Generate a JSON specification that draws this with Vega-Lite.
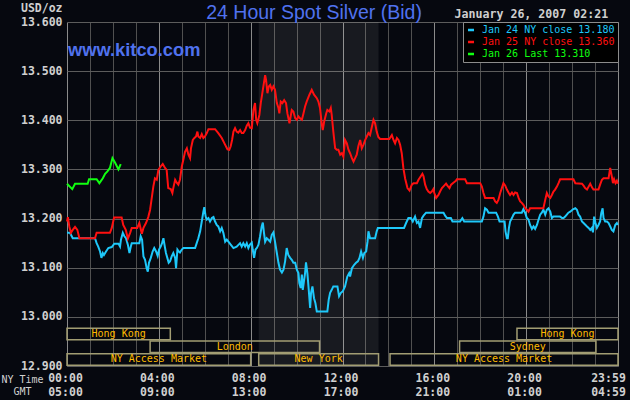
{
  "$schema": "https://vega.github.io/schema/vega-lite/v6.json",
  "description": "24 Hour Spot Silver (Bid), kitco, January 26 2007",
  "width": 551,
  "height": 344,
  "autosize": {"type": "none"},
  "padding": {"left": 67, "top": 22, "right": 12, "bottom": 34},
  "background": "#06080f",
  "config": {
    "view": {"stroke": null},
    "axis": {
      "ticks": false,
      "domain": false,
      "grid": true,
      "gridWidth": 1,
      "labelFont": "DejaVu Sans Mono",
      "labelFontSize": 11.5,
      "labelFontWeight": "bold",
      "labelColor": "#d0d0d0",
      "titleFont": "DejaVu Sans Mono",
      "titleFontSize": 10,
      "titleFontWeight": "normal",
      "titleColor": "#d0d0d0"
    },
    "axisX": {
      "labelBaseline": "top",
      "labelPadding": 6,
      "labelLineHeight": 14,
      "labelOverlap": false,
      "labelFlush": false,
      "titleAlign": "center",
      "titleBaseline": "top",
      "titleX": -45,
      "titleY": 8,
      "titleLineHeight": 12
    },
    "axisY": {"labelPadding": 5, "gridColor": "#5c5c5c"}
  },
  "datasets": {
    "days": [
      {"day": "Jan 24", "label": "Jan 24 NY close 13.180"},
      {"day": "Jan 25", "label": "Jan 25 NY close 13.360"},
      {"day": "Jan 26", "label": "Jan 26 Last 13.310"}
    ],
    "sessions": [
      {"session": "Hong Kong", "row": 1, "start": 0, "end": 4.5},
      {"session": "Hong Kong", "row": 1, "start": 19.6, "end": 24},
      {"session": "London", "row": 2, "start": 3.62, "end": 11.0},
      {"session": "Sydney", "row": 2, "start": 17.1, "end": 23.04},
      {"session": "NY Access Market", "row": 3, "start": 0, "end": 8.0},
      {"session": "New York", "row": 3, "start": 8.35, "end": 13.57},
      {"session": "NY Access Market", "row": 3, "start": 14.07, "end": 24}
    ],
    "prices": [
      {"day":"Jan 24","hour":0,"price":13.171},{"day":"Jan 24","hour":0.13,"price":13.171},{"day":"Jan 24","hour":0.25,"price":13.16},
      {"day":"Jan 24","hour":1.22,"price":13.16},{"day":"Jan 24","hour":1.29,"price":13.15},{"day":"Jan 24","hour":1.36,"price":13.143},
      {"day":"Jan 24","hour":1.44,"price":13.133},{"day":"Jan 24","hour":1.5,"price":13.12},{"day":"Jan 24","hour":1.56,"price":13.13},
      {"day":"Jan 24","hour":1.61,"price":13.126},{"day":"Jan 24","hour":1.7,"price":13.133},{"day":"Jan 24","hour":1.8,"price":13.14},
      {"day":"Jan 24","hour":1.95,"price":13.142},{"day":"Jan 24","hour":2.06,"price":13.149},{"day":"Jan 24","hour":2.24,"price":13.149},
      {"day":"Jan 24","hour":2.31,"price":13.143},{"day":"Jan 24","hour":2.35,"price":13.157},{"day":"Jan 24","hour":2.43,"price":13.171},
      {"day":"Jan 24","hour":2.5,"price":13.164},{"day":"Jan 24","hour":2.57,"price":13.16},{"day":"Jan 24","hour":2.65,"price":13.147},
      {"day":"Jan 24","hour":2.72,"price":13.13},{"day":"Jan 24","hour":2.78,"price":13.143},{"day":"Jan 24","hour":2.82,"price":13.15},
      {"day":"Jan 24","hour":3.15,"price":13.15},{"day":"Jan 24","hour":3.21,"price":13.164},{"day":"Jan 24","hour":3.27,"price":13.157},
      {"day":"Jan 24","hour":3.33,"price":13.123},{"day":"Jan 24","hour":3.4,"price":13.116},{"day":"Jan 24","hour":3.47,"price":13.099},
      {"day":"Jan 24","hour":3.52,"price":13.092},{"day":"Jan 24","hour":3.57,"price":13.11},{"day":"Jan 24","hour":3.65,"price":13.12},
      {"day":"Jan 24","hour":3.73,"price":13.133},{"day":"Jan 24","hour":3.8,"price":13.14},{"day":"Jan 24","hour":3.88,"price":13.133},
      {"day":"Jan 24","hour":3.95,"price":13.124},{"day":"Jan 24","hour":4.01,"price":13.137},{"day":"Jan 24","hour":4.08,"price":13.143},
      {"day":"Jan 24","hour":4.14,"price":13.15},{"day":"Jan 24","hour":4.2,"price":13.16},{"day":"Jan 24","hour":4.26,"price":13.143},
      {"day":"Jan 24","hour":4.31,"price":13.13},{"day":"Jan 24","hour":4.37,"price":13.12},{"day":"Jan 24","hour":4.43,"price":13.11},
      {"day":"Jan 24","hour":4.49,"price":13.113},{"day":"Jan 24","hour":4.56,"price":13.123},{"day":"Jan 24","hour":4.63,"price":13.13},
      {"day":"Jan 24","hour":4.71,"price":13.12},{"day":"Jan 24","hour":4.75,"price":13.099},{"day":"Jan 24","hour":4.81,"price":13.137},
      {"day":"Jan 24","hour":4.87,"price":13.133},{"day":"Jan 24","hour":4.92,"price":13.131},{"day":"Jan 24","hour":5.0,"price":13.137},
      {"day":"Jan 24","hour":5.07,"price":13.14},{"day":"Jan 24","hour":5.58,"price":13.14},{"day":"Jan 24","hour":5.65,"price":13.15},
      {"day":"Jan 24","hour":5.72,"price":13.16},{"day":"Jan 24","hour":5.8,"price":13.174},{"day":"Jan 24","hour":5.87,"price":13.194},
      {"day":"Jan 24","hour":5.94,"price":13.214},{"day":"Jan 24","hour":5.98,"price":13.223},{"day":"Jan 24","hour":6.04,"price":13.204},
      {"day":"Jan 24","hour":6.09,"price":13.198},{"day":"Jan 24","hour":6.16,"price":13.201},{"day":"Jan 24","hour":6.23,"price":13.194},
      {"day":"Jan 24","hour":6.31,"price":13.201},{"day":"Jan 24","hour":6.38,"price":13.203},{"day":"Jan 24","hour":6.45,"price":13.194},
      {"day":"Jan 24","hour":6.52,"price":13.187},{"day":"Jan 24","hour":6.59,"price":13.184},{"day":"Jan 24","hour":6.67,"price":13.174},
      {"day":"Jan 24","hour":6.74,"price":13.181},{"day":"Jan 24","hour":6.81,"price":13.171},{"day":"Jan 24","hour":6.89,"price":13.153},
      {"day":"Jan 24","hour":6.96,"price":13.157},{"day":"Jan 24","hour":7.03,"price":13.153},{"day":"Jan 24","hour":7.13,"price":13.147},
      {"day":"Jan 24","hour":7.25,"price":13.14},{"day":"Jan 24","hour":7.39,"price":13.143},{"day":"Jan 24","hour":7.54,"price":13.15},
      {"day":"Jan 24","hour":7.61,"price":13.143},{"day":"Jan 24","hour":7.68,"price":13.15},{"day":"Jan 24","hour":7.76,"price":13.143},
      {"day":"Jan 24","hour":7.83,"price":13.15},{"day":"Jan 24","hour":7.9,"price":13.14},{"day":"Jan 24","hour":7.97,"price":13.147},
      {"day":"Jan 24","hour":8.05,"price":13.151},{"day":"Jan 24","hour":8.09,"price":13.137},{"day":"Jan 24","hour":8.15,"price":13.12},
      {"day":"Jan 24","hour":8.21,"price":13.137},{"day":"Jan 24","hour":8.27,"price":13.14},{"day":"Jan 24","hour":8.34,"price":13.147},
      {"day":"Jan 24","hour":8.41,"price":13.164},{"day":"Jan 24","hour":8.48,"price":13.184},{"day":"Jan 24","hour":8.53,"price":13.192},
      {"day":"Jan 24","hour":8.58,"price":13.171},{"day":"Jan 24","hour":8.63,"price":13.153},{"day":"Jan 24","hour":8.7,"price":13.16},
      {"day":"Jan 24","hour":8.77,"price":13.157},{"day":"Jan 24","hour":8.85,"price":13.153},{"day":"Jan 24","hour":8.92,"price":13.167},
      {"day":"Jan 24","hour":8.99,"price":13.172},{"day":"Jan 24","hour":9.06,"price":13.153},{"day":"Jan 24","hour":9.14,"price":13.13},
      {"day":"Jan 24","hour":9.21,"price":13.11},{"day":"Jan 24","hour":9.28,"price":13.096},{"day":"Jan 24","hour":9.36,"price":13.09},
      {"day":"Jan 24","hour":9.43,"price":13.096},{"day":"Jan 24","hour":9.5,"price":13.113},{"day":"Jan 24","hour":9.57,"price":13.14},
      {"day":"Jan 24","hour":9.64,"price":13.126},{"day":"Jan 24","hour":9.72,"price":13.12},{"day":"Jan 24","hour":9.79,"price":13.116},
      {"day":"Jan 24","hour":9.86,"price":13.11},{"day":"Jan 24","hour":9.94,"price":13.11},{"day":"Jan 24","hour":10.01,"price":13.096},
      {"day":"Jan 24","hour":10.08,"price":13.089},{"day":"Jan 24","hour":10.12,"price":13.069},{"day":"Jan 24","hour":10.18,"price":13.059},
      {"day":"Jan 24","hour":10.23,"price":13.086},{"day":"Jan 24","hour":10.27,"price":13.055},{"day":"Jan 24","hour":10.33,"price":13.076},
      {"day":"Jan 24","hour":10.37,"price":13.089},{"day":"Jan 24","hour":10.41,"price":13.111},{"day":"Jan 24","hour":10.47,"price":13.089},
      {"day":"Jan 24","hour":10.53,"price":13.055},{"day":"Jan 24","hour":10.59,"price":13.018},{"day":"Jan 24","hour":10.63,"price":13.049},
      {"day":"Jan 24","hour":10.69,"price":13.062},{"day":"Jan 24","hour":10.76,"price":13.038},{"day":"Jan 24","hour":10.82,"price":13.028},
      {"day":"Jan 24","hour":10.88,"price":13.011},{"day":"Jan 24","hour":11.34,"price":13.011},{"day":"Jan 24","hour":11.4,"price":13.035},
      {"day":"Jan 24","hour":11.46,"price":13.049},{"day":"Jan 24","hour":11.53,"price":13.055},{"day":"Jan 24","hour":11.6,"price":13.062},
      {"day":"Jan 24","hour":11.78,"price":13.062},{"day":"Jan 24","hour":11.85,"price":13.042},{"day":"Jan 24","hour":11.93,"price":13.049},
      {"day":"Jan 24","hour":12.01,"price":13.052},{"day":"Jan 24","hour":12.11,"price":13.062},{"day":"Jan 24","hour":12.21,"price":13.082},
      {"day":"Jan 24","hour":12.29,"price":13.089},{"day":"Jan 24","hour":12.33,"price":13.082},{"day":"Jan 24","hour":12.41,"price":13.099},
      {"day":"Jan 24","hour":12.51,"price":13.106},{"day":"Jan 24","hour":12.59,"price":13.11},{"day":"Jan 24","hour":12.67,"price":13.113},
      {"day":"Jan 24","hour":12.74,"price":13.12},{"day":"Jan 24","hour":12.81,"price":13.133},{"day":"Jan 24","hour":12.89,"price":13.12},
      {"day":"Jan 24","hour":12.95,"price":13.13},{"day":"Jan 24","hour":13.03,"price":13.133},{"day":"Jan 24","hour":13.09,"price":13.153},
      {"day":"Jan 24","hour":13.13,"price":13.174},{"day":"Jan 24","hour":13.2,"price":13.16},{"day":"Jan 24","hour":13.42,"price":13.16},
      {"day":"Jan 24","hour":13.49,"price":13.174},{"day":"Jan 24","hour":13.54,"price":13.181},{"day":"Jan 24","hour":14.68,"price":13.181},
      {"day":"Jan 24","hour":14.77,"price":13.191},{"day":"Jan 24","hour":14.87,"price":13.201},{"day":"Jan 24","hour":14.98,"price":13.201},
      {"day":"Jan 24","hour":15.06,"price":13.194},{"day":"Jan 24","hour":15.16,"price":13.204},{"day":"Jan 24","hour":15.24,"price":13.191},
      {"day":"Jan 24","hour":15.31,"price":13.194},{"day":"Jan 24","hour":15.38,"price":13.181},{"day":"Jan 24","hour":15.46,"price":13.201},
      {"day":"Jan 24","hour":15.53,"price":13.206},{"day":"Jan 24","hour":15.64,"price":13.212},{"day":"Jan 24","hour":16.4,"price":13.212},
      {"day":"Jan 24","hour":16.47,"price":13.206},{"day":"Jan 24","hour":16.55,"price":13.201},{"day":"Jan 24","hour":16.72,"price":13.201},
      {"day":"Jan 24","hour":16.79,"price":13.194},{"day":"Jan 24","hour":17.12,"price":13.194},{"day":"Jan 24","hour":17.22,"price":13.201},
      {"day":"Jan 24","hour":17.3,"price":13.194},{"day":"Jan 24","hour":18.07,"price":13.194},{"day":"Jan 24","hour":18.14,"price":13.204},
      {"day":"Jan 24","hour":18.21,"price":13.221},{"day":"Jan 24","hour":18.29,"price":13.218},{"day":"Jan 24","hour":18.36,"price":13.212},
      {"day":"Jan 24","hour":18.69,"price":13.212},{"day":"Jan 24","hour":18.77,"price":13.204},{"day":"Jan 24","hour":18.84,"price":13.194},
      {"day":"Jan 24","hour":19.06,"price":13.194},{"day":"Jan 24","hour":19.1,"price":13.174},{"day":"Jan 24","hour":19.16,"price":13.16},
      {"day":"Jan 24","hour":19.2,"price":13.16},{"day":"Jan 24","hour":19.25,"price":13.181},{"day":"Jan 24","hour":19.3,"price":13.194},
      {"day":"Jan 24","hour":19.38,"price":13.201},{"day":"Jan 24","hour":19.45,"price":13.208},{"day":"Jan 24","hour":19.52,"price":13.212},
      {"day":"Jan 24","hour":19.81,"price":13.212},{"day":"Jan 24","hour":19.88,"price":13.219},{"day":"Jan 24","hour":19.96,"price":13.211},
      {"day":"Jan 24","hour":20.03,"price":13.201},{"day":"Jan 24","hour":20.1,"price":13.198},{"day":"Jan 24","hour":20.17,"price":13.187},
      {"day":"Jan 24","hour":20.25,"price":13.179},{"day":"Jan 24","hour":20.32,"price":13.184},{"day":"Jan 24","hour":20.39,"price":13.179},
      {"day":"Jan 24","hour":20.47,"price":13.187},{"day":"Jan 24","hour":20.54,"price":13.198},{"day":"Jan 24","hour":20.61,"price":13.208},
      {"day":"Jan 24","hour":20.68,"price":13.212},{"day":"Jan 24","hour":20.75,"price":13.218},{"day":"Jan 24","hour":20.83,"price":13.208},
      {"day":"Jan 24","hour":20.9,"price":13.218},{"day":"Jan 24","hour":20.97,"price":13.221},{"day":"Jan 24","hour":21.05,"price":13.214},
      {"day":"Jan 24","hour":21.12,"price":13.201},{"day":"Jan 24","hour":21.19,"price":13.204},{"day":"Jan 24","hour":21.48,"price":13.204},
      {"day":"Jan 24","hour":21.56,"price":13.201},{"day":"Jan 24","hour":21.63,"price":13.201},{"day":"Jan 24","hour":21.7,"price":13.204},
      {"day":"Jan 24","hour":21.77,"price":13.208},{"day":"Jan 24","hour":21.84,"price":13.212},{"day":"Jan 24","hour":21.92,"price":13.214},
      {"day":"Jan 24","hour":22.04,"price":13.219},{"day":"Jan 24","hour":22.14,"price":13.221},{"day":"Jan 24","hour":22.21,"price":13.218},
      {"day":"Jan 24","hour":22.28,"price":13.208},{"day":"Jan 24","hour":22.35,"price":13.204},{"day":"Jan 24","hour":22.43,"price":13.194},
      {"day":"Jan 24","hour":22.5,"price":13.191},{"day":"Jan 24","hour":22.65,"price":13.184},{"day":"Jan 24","hour":22.72,"price":13.181},
      {"day":"Jan 24","hour":22.79,"price":13.177},{"day":"Jan 24","hour":22.86,"price":13.181},{"day":"Jan 24","hour":22.91,"price":13.172},
      {"day":"Jan 24","hour":22.96,"price":13.204},{"day":"Jan 24","hour":23.02,"price":13.191},{"day":"Jan 24","hour":23.08,"price":13.181},
      {"day":"Jan 24","hour":23.15,"price":13.187},{"day":"Jan 24","hour":23.22,"price":13.194},{"day":"Jan 24","hour":23.27,"price":13.211},
      {"day":"Jan 24","hour":23.33,"price":13.221},{"day":"Jan 24","hour":23.37,"price":13.201},{"day":"Jan 24","hour":23.44,"price":13.194},
      {"day":"Jan 24","hour":23.52,"price":13.194},{"day":"Jan 24","hour":23.59,"price":13.191},{"day":"Jan 24","hour":23.66,"price":13.184},
      {"day":"Jan 24","hour":23.73,"price":13.177},{"day":"Jan 24","hour":23.8,"price":13.174},{"day":"Jan 24","hour":23.88,"price":13.187},
      {"day":"Jan 24","hour":23.95,"price":13.191},{"day":"Jan 24","hour":23.99,"price":13.187},

      {"day":"Jan 25","hour":0,"price":13.194},{"day":"Jan 25","hour":0.04,"price":13.203},{"day":"Jan 25","hour":0.1,"price":13.184},
      {"day":"Jan 25","hour":0.17,"price":13.171},{"day":"Jan 25","hour":0.25,"price":13.177},{"day":"Jan 25","hour":0.35,"price":13.183},
      {"day":"Jan 25","hour":0.45,"price":13.177},{"day":"Jan 25","hour":0.54,"price":13.16},{"day":"Jan 25","hour":1.22,"price":13.16},
      {"day":"Jan 25","hour":1.29,"price":13.171},{"day":"Jan 25","hour":1.87,"price":13.171},{"day":"Jan 25","hour":1.95,"price":13.181},
      {"day":"Jan 25","hour":2.05,"price":13.202},{"day":"Jan 25","hour":2.38,"price":13.202},{"day":"Jan 25","hour":2.45,"price":13.187},
      {"day":"Jan 25","hour":2.56,"price":13.177},{"day":"Jan 25","hour":2.65,"price":13.159},{"day":"Jan 25","hour":2.75,"price":13.171},
      {"day":"Jan 25","hour":2.82,"price":13.181},{"day":"Jan 25","hour":3.06,"price":13.181},{"day":"Jan 25","hour":3.15,"price":13.191},
      {"day":"Jan 25","hour":3.26,"price":13.169},{"day":"Jan 25","hour":3.33,"price":13.181},{"day":"Jan 25","hour":3.44,"price":13.191},
      {"day":"Jan 25","hour":3.54,"price":13.203},{"day":"Jan 25","hour":3.62,"price":13.218},{"day":"Jan 25","hour":3.76,"price":13.265},
      {"day":"Jan 25","hour":3.83,"price":13.282},{"day":"Jan 25","hour":3.91,"price":13.279},{"day":"Jan 25","hour":3.98,"price":13.299},
      {"day":"Jan 25","hour":4.08,"price":13.306},{"day":"Jan 25","hour":4.17,"price":13.311},{"day":"Jan 25","hour":4.27,"price":13.303},
      {"day":"Jan 25","hour":4.34,"price":13.299},{"day":"Jan 25","hour":4.41,"price":13.262},{"day":"Jan 25","hour":4.52,"price":13.26},
      {"day":"Jan 25","hour":4.59,"price":13.252},{"day":"Jan 25","hour":4.63,"price":13.262},{"day":"Jan 25","hour":4.71,"price":13.279},
      {"day":"Jan 25","hour":4.78,"price":13.273},{"day":"Jan 25","hour":4.85,"price":13.269},{"day":"Jan 25","hour":4.92,"price":13.279},
      {"day":"Jan 25","hour":5.0,"price":13.306},{"day":"Jan 25","hour":5.07,"price":13.32},{"day":"Jan 25","hour":5.14,"price":13.336},
      {"day":"Jan 25","hour":5.22,"price":13.343},{"day":"Jan 25","hour":5.29,"price":13.33},{"day":"Jan 25","hour":5.36,"price":13.323},
      {"day":"Jan 25","hour":5.4,"price":13.343},{"day":"Jan 25","hour":5.48,"price":13.36},{"day":"Jan 25","hour":5.55,"price":13.364},
      {"day":"Jan 25","hour":5.62,"price":13.367},{"day":"Jan 25","hour":5.68,"price":13.377},{"day":"Jan 25","hour":5.72,"price":13.367},
      {"day":"Jan 25","hour":5.8,"price":13.364},{"day":"Jan 25","hour":5.87,"price":13.372},{"day":"Jan 25","hour":5.94,"price":13.364},
      {"day":"Jan 25","hour":6.01,"price":13.367},{"day":"Jan 25","hour":6.09,"price":13.374},{"day":"Jan 25","hour":6.16,"price":13.382},
      {"day":"Jan 25","hour":6.45,"price":13.382},{"day":"Jan 25","hour":6.59,"price":13.374},{"day":"Jan 25","hour":6.74,"price":13.364},
      {"day":"Jan 25","hour":6.89,"price":13.35},{"day":"Jan 25","hour":6.99,"price":13.341},{"day":"Jan 25","hour":7.07,"price":13.34},
      {"day":"Jan 25","hour":7.13,"price":13.347},{"day":"Jan 25","hour":7.19,"price":13.36},{"day":"Jan 25","hour":7.25,"price":13.377},
      {"day":"Jan 25","hour":7.32,"price":13.384},{"day":"Jan 25","hour":7.39,"price":13.377},{"day":"Jan 25","hour":7.46,"price":13.375},
      {"day":"Jan 25","hour":7.54,"price":13.38},{"day":"Jan 25","hour":7.61,"price":13.374},{"day":"Jan 25","hour":7.68,"price":13.374},
      {"day":"Jan 25","hour":7.76,"price":13.38},{"day":"Jan 25","hour":7.83,"price":13.389},{"day":"Jan 25","hour":7.9,"price":13.394},
      {"day":"Jan 25","hour":7.97,"price":13.385},{"day":"Jan 25","hour":8.05,"price":13.384},{"day":"Jan 25","hour":8.12,"price":13.421},
      {"day":"Jan 25","hour":8.19,"price":13.435},{"day":"Jan 25","hour":8.24,"price":13.401},{"day":"Jan 25","hour":8.29,"price":13.394},
      {"day":"Jan 25","hour":8.38,"price":13.411},{"day":"Jan 25","hour":8.44,"price":13.435},{"day":"Jan 25","hour":8.53,"price":13.462},
      {"day":"Jan 25","hour":8.63,"price":13.492},{"day":"Jan 25","hour":8.67,"price":13.482},{"day":"Jan 25","hour":8.73,"price":13.455},
      {"day":"Jan 25","hour":8.79,"price":13.469},{"day":"Jan 25","hour":8.85,"price":13.472},{"day":"Jan 25","hour":8.92,"price":13.462},
      {"day":"Jan 25","hour":8.99,"price":13.469},{"day":"Jan 25","hour":9.06,"price":13.462},{"day":"Jan 25","hour":9.14,"price":13.435},
      {"day":"Jan 25","hour":9.21,"price":13.425},{"day":"Jan 25","hour":9.25,"price":13.414},{"day":"Jan 25","hour":9.31,"price":13.438},
      {"day":"Jan 25","hour":9.38,"price":13.435},{"day":"Jan 25","hour":9.46,"price":13.441},{"day":"Jan 25","hour":9.54,"price":13.435},
      {"day":"Jan 25","hour":9.6,"price":13.414},{"day":"Jan 25","hour":9.69,"price":13.394},{"day":"Jan 25","hour":9.79,"price":13.421},
      {"day":"Jan 25","hour":9.86,"price":13.418},{"day":"Jan 25","hour":9.94,"price":13.404},{"day":"Jan 25","hour":10.01,"price":13.401},
      {"day":"Jan 25","hour":10.08,"price":13.408},{"day":"Jan 25","hour":10.15,"price":13.404},{"day":"Jan 25","hour":10.23,"price":13.401},
      {"day":"Jan 25","hour":10.3,"price":13.414},{"day":"Jan 25","hour":10.37,"price":13.428},{"day":"Jan 25","hour":10.44,"price":13.438},
      {"day":"Jan 25","hour":10.56,"price":13.452},{"day":"Jan 25","hour":10.66,"price":13.462},{"day":"Jan 25","hour":10.76,"price":13.452},
      {"day":"Jan 25","hour":10.88,"price":13.445},{"day":"Jan 25","hour":10.95,"price":13.438},{"day":"Jan 25","hour":11.02,"price":13.425},
      {"day":"Jan 25","hour":11.1,"price":13.391},{"day":"Jan 25","hour":11.14,"price":13.38},{"day":"Jan 25","hour":11.2,"price":13.397},
      {"day":"Jan 25","hour":11.29,"price":13.414},{"day":"Jan 25","hour":11.34,"price":13.421},{"day":"Jan 25","hour":11.43,"price":13.418},
      {"day":"Jan 25","hour":11.49,"price":13.425},{"day":"Jan 25","hour":11.53,"price":13.411},{"day":"Jan 25","hour":11.6,"price":13.377},
      {"day":"Jan 25","hour":11.68,"price":13.343},{"day":"Jan 25","hour":11.75,"price":13.34},{"day":"Jan 25","hour":11.82,"price":13.34},
      {"day":"Jan 25","hour":11.9,"price":13.33},{"day":"Jan 25","hour":11.97,"price":13.333},{"day":"Jan 25","hour":12.04,"price":13.326},
      {"day":"Jan 25","hour":12.11,"price":13.36},{"day":"Jan 25","hour":12.19,"price":13.353},{"day":"Jan 25","hour":12.26,"price":13.34},
      {"day":"Jan 25","hour":12.33,"price":13.333},{"day":"Jan 25","hour":12.41,"price":13.323},{"day":"Jan 25","hour":12.48,"price":13.316},
      {"day":"Jan 25","hour":12.55,"price":13.323},{"day":"Jan 25","hour":12.62,"price":13.33},{"day":"Jan 25","hour":12.69,"price":13.347},
      {"day":"Jan 25","hour":12.77,"price":13.36},{"day":"Jan 25","hour":12.84,"price":13.343},{"day":"Jan 25","hour":12.91,"price":13.35},
      {"day":"Jan 25","hour":12.99,"price":13.36},{"day":"Jan 25","hour":13.06,"price":13.367},{"day":"Jan 25","hour":13.13,"price":13.374},
      {"day":"Jan 25","hour":13.2,"price":13.37},{"day":"Jan 25","hour":13.28,"price":13.387},{"day":"Jan 25","hour":13.35,"price":13.401},
      {"day":"Jan 25","hour":13.42,"price":13.394},{"day":"Jan 25","hour":13.49,"price":13.377},{"day":"Jan 25","hour":13.56,"price":13.366},
      {"day":"Jan 25","hour":13.64,"price":13.362},{"day":"Jan 25","hour":14.04,"price":13.362},{"day":"Jan 25","hour":14.15,"price":13.37},
      {"day":"Jan 25","hour":14.22,"price":13.36},{"day":"Jan 25","hour":14.29,"price":13.353},{"day":"Jan 25","hour":14.37,"price":13.364},
      {"day":"Jan 25","hour":14.44,"price":13.36},{"day":"Jan 25","hour":14.51,"price":13.35},{"day":"Jan 25","hour":14.58,"price":13.333},
      {"day":"Jan 25","hour":14.65,"price":13.303},{"day":"Jan 25","hour":14.73,"price":13.281},{"day":"Jan 25","hour":14.83,"price":13.262},
      {"day":"Jan 25","hour":14.92,"price":13.257},{"day":"Jan 25","hour":15.02,"price":13.269},{"day":"Jan 25","hour":15.09,"price":13.272},
      {"day":"Jan 25","hour":15.24,"price":13.272},{"day":"Jan 25","hour":15.31,"price":13.279},{"day":"Jan 25","hour":15.41,"price":13.286},
      {"day":"Jan 25","hour":15.48,"price":13.291},{"day":"Jan 25","hour":15.53,"price":13.286},{"day":"Jan 25","hour":15.6,"price":13.269},
      {"day":"Jan 25","hour":15.67,"price":13.26},{"day":"Jan 25","hour":15.74,"price":13.255},{"day":"Jan 25","hour":15.82,"price":13.252},
      {"day":"Jan 25","hour":15.89,"price":13.255},{"day":"Jan 25","hour":15.96,"price":13.26},{"day":"Jan 25","hour":16.0,"price":13.252},
      {"day":"Jan 25","hour":16.08,"price":13.242},{"day":"Jan 25","hour":16.18,"price":13.248},{"day":"Jan 25","hour":16.25,"price":13.255},
      {"day":"Jan 25","hour":16.33,"price":13.262},{"day":"Jan 25","hour":16.43,"price":13.267},{"day":"Jan 25","hour":16.51,"price":13.271},
      {"day":"Jan 25","hour":16.57,"price":13.267},{"day":"Jan 25","hour":16.66,"price":13.262},{"day":"Jan 25","hour":16.73,"price":13.269},
      {"day":"Jan 25","hour":16.83,"price":13.273},{"day":"Jan 25","hour":16.94,"price":13.277},{"day":"Jan 25","hour":16.98,"price":13.28},
      {"day":"Jan 25","hour":17.34,"price":13.28},{"day":"Jan 25","hour":17.42,"price":13.272},{"day":"Jan 25","hour":18.0,"price":13.272},
      {"day":"Jan 25","hour":18.07,"price":13.265},{"day":"Jan 25","hour":18.14,"price":13.252},{"day":"Jan 25","hour":18.21,"price":13.242},
      {"day":"Jan 25","hour":18.58,"price":13.242},{"day":"Jan 25","hour":18.65,"price":13.235},{"day":"Jan 25","hour":18.72,"price":13.232},
      {"day":"Jan 25","hour":18.79,"price":13.238},{"day":"Jan 25","hour":18.87,"price":13.252},{"day":"Jan 25","hour":18.94,"price":13.262},
      {"day":"Jan 25","hour":19.01,"price":13.272},{"day":"Jan 25","hour":19.09,"price":13.267},{"day":"Jan 25","hour":19.16,"price":13.259},
      {"day":"Jan 25","hour":19.23,"price":13.253},{"day":"Jan 25","hour":19.3,"price":13.248},{"day":"Jan 25","hour":19.38,"price":13.253},
      {"day":"Jan 25","hour":19.45,"price":13.248},{"day":"Jan 25","hour":19.52,"price":13.253},{"day":"Jan 25","hour":19.6,"price":13.252},
      {"day":"Jan 25","hour":19.67,"price":13.242},{"day":"Jan 25","hour":19.74,"price":13.235},{"day":"Jan 25","hour":19.81,"price":13.232},
      {"day":"Jan 25","hour":19.88,"price":13.228},{"day":"Jan 25","hour":19.96,"price":13.221},{"day":"Jan 25","hour":20.03,"price":13.218},
      {"day":"Jan 25","hour":20.1,"price":13.214},{"day":"Jan 25","hour":20.17,"price":13.221},{"day":"Jan 25","hour":20.75,"price":13.221},
      {"day":"Jan 25","hour":20.83,"price":13.238},{"day":"Jan 25","hour":20.9,"price":13.252},{"day":"Jan 25","hour":20.97,"price":13.245},
      {"day":"Jan 25","hour":21.05,"price":13.242},{"day":"Jan 25","hour":21.12,"price":13.248},{"day":"Jan 25","hour":21.19,"price":13.255},
      {"day":"Jan 25","hour":21.26,"price":13.259},{"day":"Jan 25","hour":21.34,"price":13.265},{"day":"Jan 25","hour":21.41,"price":13.272},
      {"day":"Jan 25","hour":21.48,"price":13.28},{"day":"Jan 25","hour":22.06,"price":13.28},{"day":"Jan 25","hour":22.14,"price":13.272},
      {"day":"Jan 25","hour":22.43,"price":13.271},{"day":"Jan 25","hour":22.5,"price":13.267},{"day":"Jan 25","hour":22.57,"price":13.262},
      {"day":"Jan 25","hour":22.65,"price":13.259},{"day":"Jan 25","hour":22.72,"price":13.265},{"day":"Jan 25","hour":22.79,"price":13.271},
      {"day":"Jan 25","hour":22.86,"price":13.264},{"day":"Jan 25","hour":22.93,"price":13.259},{"day":"Jan 25","hour":23.15,"price":13.259},
      {"day":"Jan 25","hour":23.22,"price":13.269},{"day":"Jan 25","hour":23.3,"price":13.279},{"day":"Jan 25","hour":23.37,"price":13.282},
      {"day":"Jan 25","hour":23.59,"price":13.282},{"day":"Jan 25","hour":23.66,"price":13.303},{"day":"Jan 25","hour":23.73,"price":13.286},
      {"day":"Jan 25","hour":23.78,"price":13.272},{"day":"Jan 25","hour":23.83,"price":13.28},{"day":"Jan 25","hour":23.89,"price":13.272},
      {"day":"Jan 25","hour":23.95,"price":13.277},{"day":"Jan 25","hour":23.99,"price":13.271},

      {"day":"Jan 26","hour":0,"price":13.271},{"day":"Jan 26","hour":0.23,"price":13.26},{"day":"Jan 26","hour":0.35,"price":13.271},
      {"day":"Jan 26","hour":0.9,"price":13.271},{"day":"Jan 26","hour":0.96,"price":13.28},{"day":"Jan 26","hour":1.29,"price":13.28},
      {"day":"Jan 26","hour":1.41,"price":13.272},{"day":"Jan 26","hour":1.56,"price":13.282},{"day":"Jan 26","hour":1.66,"price":13.291},
      {"day":"Jan 26","hour":1.76,"price":13.296},{"day":"Jan 26","hour":1.87,"price":13.303},{"day":"Jan 26","hour":1.98,"price":13.323},
      {"day":"Jan 26","hour":2.09,"price":13.314},{"day":"Jan 26","hour":2.24,"price":13.3},{"day":"Jan 26","hour":2.34,"price":13.311}
    ]
  },
  "layer": [
    {
      "data": {"name": "sessions"},
      "transform": [{"filter": "datum.session === 'New York'"}],
      "mark": {"type": "rect", "fill": "#ffffff", "fillOpacity": 0.075},
      "encoding": {
        "x": {"field": "start", "type": "quantitative", "scale": {"domain": [0, 24], "nice": false, "zero": false},
          "axis": {"values": [0, 1, 2, 3, 4, 5, 6, 7, 8, 9, 10, 11, 12, 13, 14, 15, 16, 17, 18, 19, 20, 21, 22, 23, 24], "grid": true, "gridColor": {"condition": {"test": "datum.value % 4 === 0", "value": "#8a8a8a"}, "value": "#505050"}, "labelOffset": {"condition": {"test": "datum.value === 24", "value": -10}, "value": -2}, "labelExpr": "datum.value === 24 ? ['23:59', '04:59'] : (datum.value % 4 === 0 ? [(datum.value < 10 ? '0' : '') + datum.value + ':00', ((datum.value + 5) % 24 < 10 ? '0' : '') + ((datum.value + 5) % 24) + ':00'] : '')", "title": ["NY Time", "GMT"]}},
        "x2": {"field": "end"}
      }
    },
    {
      "data": {"name": "prices"},
      "transform": [
        {"lookup": "day", "from": {"data": {"name": "days"}, "key": "day", "fields": ["label"]}}
      ],
      "mark": {"type": "line", "strokeWidth": 2},
      "encoding": {
        "x": {"field": "hour", "type": "quantitative", "scale": {"domain": [0, 24], "nice": false, "zero": false},
          "axis": {"values": [0, 1, 2, 3, 4, 5, 6, 7, 8, 9, 10, 11, 12, 13, 14, 15, 16, 17, 18, 19, 20, 21, 22, 23, 24], "grid": true, "gridColor": {"condition": {"test": "datum.value % 4 === 0", "value": "#8a8a8a"}, "value": "#505050"}, "labelOffset": {"condition": {"test": "datum.value === 24", "value": -10}, "value": -2}, "labelExpr": "datum.value === 24 ? ['23:59', '04:59'] : (datum.value % 4 === 0 ? [(datum.value < 10 ? '0' : '') + datum.value + ':00', ((datum.value + 5) % 24 < 10 ? '0' : '') + ((datum.value + 5) % 24) + ':00'] : '')", "title": ["NY Time", "GMT"]}},
        "y": {"field": "price", "type": "quantitative", "scale": {"domain": [12.9, 13.6], "nice": false, "zero": false},
          "axis": {"values": [12.9, 13.0, 13.1, 13.2, 13.3, 13.4, 13.5, 13.6], "grid": true, "gridColor": "#5c5c5c", "format": ".3f", "title": null}},
        "color": {
          "field": "label",
          "type": "nominal",
          "scale": {
            "domain": ["Jan 24 NY close 13.180", "Jan 25 NY close 13.360", "Jan 26 Last 13.310"],
            "range": ["#1ec8fa", "#ff1010", "#10ff10"]
          },
          "legend": {
            "title": null,
            "orient": "top-right",
            "offset": 0,
            "padding": 3,
            "fillColor": "#000000",
            "strokeColor": "#8c8c8c",
            "labelFont": "DejaVu Sans Mono",
            "labelFontSize": 10,
            "labelOffset": 6,
            "labelLimit": 400,
            "labelColor": "#1ec8fa",
            "symbolType": "stroke",
            "symbolSize": 36,
            "symbolStrokeWidth": 2.5,
            "rowPadding": 2,
            "encoding": {
              "labels": {
                "fill": {
                  "condition": [
                    {"test": "datum.value === 'Jan 25 NY close 13.360'", "value": "#ff1010"},
                    {"test": "datum.value === 'Jan 26 Last 13.310'", "value": "#10ff10"}
                  ],
                  "value": "#1ec8fa"
                }
              }
            }
          }
        }
      }
    },
    {
      "data": {"values": [{"text": "24 Hour Spot Silver (Bid)"}]},
      "mark": {"type": "text", "font": "Liberation Sans", "fontSize": 19.5, "color": "#5072ee", "align": "center", "baseline": "alphabetic", "dy": -3.5},
      "encoding": {
        "x": {"datum": 10.76, "type": "quantitative",
          "axis": {"values": [0, 1, 2, 3, 4, 5, 6, 7, 8, 9, 10, 11, 12, 13, 14, 15, 16, 17, 18, 19, 20, 21, 22, 23, 24], "grid": true, "gridColor": {"condition": {"test": "datum.value % 4 === 0", "value": "#8a8a8a"}, "value": "#505050"}, "labelOffset": {"condition": {"test": "datum.value === 24", "value": -10}, "value": -2}, "labelExpr": "datum.value === 24 ? ['23:59', '04:59'] : (datum.value % 4 === 0 ? [(datum.value < 10 ? '0' : '') + datum.value + ':00', ((datum.value + 5) % 24 < 10 ? '0' : '') + ((datum.value + 5) % 24) + ':00'] : '')", "title": ["NY Time", "GMT"]}},
        "y": {"datum": 13.6, "type": "quantitative",
          "axis": {"values": [12.9, 13.0, 13.1, 13.2, 13.3, 13.4, 13.5, 13.6], "grid": true, "gridColor": "#5c5c5c", "format": ".3f", "title": null}},
        "text": {"field": "text"}
      }
    },
    {
      "data": {"values": [{"text": "January 26, 2007 02:21"}]},
      "mark": {"type": "text", "font": "DejaVu Sans Mono", "fontSize": 11.6, "fontWeight": "bold", "color": "#cfcfcf", "align": "right", "baseline": "alphabetic", "dy": -4},
      "encoding": {
        "x": {"datum": 23.57, "type": "quantitative",
          "axis": {"values": [0, 1, 2, 3, 4, 5, 6, 7, 8, 9, 10, 11, 12, 13, 14, 15, 16, 17, 18, 19, 20, 21, 22, 23, 24], "grid": true, "gridColor": {"condition": {"test": "datum.value % 4 === 0", "value": "#8a8a8a"}, "value": "#505050"}, "labelOffset": {"condition": {"test": "datum.value === 24", "value": -10}, "value": -2}, "labelExpr": "datum.value === 24 ? ['23:59', '04:59'] : (datum.value % 4 === 0 ? [(datum.value < 10 ? '0' : '') + datum.value + ':00', ((datum.value + 5) % 24 < 10 ? '0' : '') + ((datum.value + 5) % 24) + ':00'] : '')", "title": ["NY Time", "GMT"]}},
        "y": {"datum": 13.6, "type": "quantitative",
          "axis": {"values": [12.9, 13.0, 13.1, 13.2, 13.3, 13.4, 13.5, 13.6], "grid": true, "gridColor": "#5c5c5c", "format": ".3f", "title": null}},
        "text": {"field": "text"}
      }
    },
    {
      "data": {"values": [{"text": "www.kitco.com"}]},
      "mark": {"type": "text", "font": "Liberation Sans", "fontSize": 18.3, "fontWeight": "bold", "color": "#5072ee", "align": "left", "baseline": "alphabetic", "dx": 1},
      "encoding": {
        "x": {"datum": 0, "type": "quantitative",
          "axis": {"values": [0, 1, 2, 3, 4, 5, 6, 7, 8, 9, 10, 11, 12, 13, 14, 15, 16, 17, 18, 19, 20, 21, 22, 23, 24], "grid": true, "gridColor": {"condition": {"test": "datum.value % 4 === 0", "value": "#8a8a8a"}, "value": "#505050"}, "labelOffset": {"condition": {"test": "datum.value === 24", "value": -10}, "value": -2}, "labelExpr": "datum.value === 24 ? ['23:59', '04:59'] : (datum.value % 4 === 0 ? [(datum.value < 10 ? '0' : '') + datum.value + ':00', ((datum.value + 5) % 24 < 10 ? '0' : '') + ((datum.value + 5) % 24) + ':00'] : '')", "title": ["NY Time", "GMT"]}},
        "y": {"datum": 13.531, "type": "quantitative",
          "axis": {"values": [12.9, 13.0, 13.1, 13.2, 13.3, 13.4, 13.5, 13.6], "grid": true, "gridColor": "#5c5c5c", "format": ".3f", "title": null}},
        "text": {"field": "text"}
      }
    },
    {
      "data": {"values": [{"text": "USD/oz"}]},
      "mark": {"type": "text", "font": "DejaVu Sans Mono", "fontSize": 11.5, "fontWeight": "bold", "color": "#cfcfcf", "align": "right", "baseline": "alphabetic", "dx": -4.5, "dy": -10},
      "encoding": {
        "x": {"datum": 0, "type": "quantitative",
          "axis": {"values": [0, 1, 2, 3, 4, 5, 6, 7, 8, 9, 10, 11, 12, 13, 14, 15, 16, 17, 18, 19, 20, 21, 22, 23, 24], "grid": true, "gridColor": {"condition": {"test": "datum.value % 4 === 0", "value": "#8a8a8a"}, "value": "#505050"}, "labelOffset": {"condition": {"test": "datum.value === 24", "value": -10}, "value": -2}, "labelExpr": "datum.value === 24 ? ['23:59', '04:59'] : (datum.value % 4 === 0 ? [(datum.value < 10 ? '0' : '') + datum.value + ':00', ((datum.value + 5) % 24 < 10 ? '0' : '') + ((datum.value + 5) % 24) + ':00'] : '')", "title": ["NY Time", "GMT"]}},
        "y": {"datum": 13.6, "type": "quantitative",
          "axis": {"values": [12.9, 13.0, 13.1, 13.2, 13.3, 13.4, 13.5, 13.6], "grid": true, "gridColor": "#5c5c5c", "format": ".3f", "title": null}},
        "text": {"field": "text"}
      }
    },
    {
      "data": {"name": "sessions"},
      "transform": [
        {"calculate": "12.977 - (datum.row - 1) * 0.026", "as": "band_top"},
        {"calculate": "datum.band_top - 0.0235", "as": "band_bottom"}
      ],
      "mark": {"type": "rect", "filled": false, "fill": "transparent", "stroke": "#a29d73", "strokeWidth": 1.5},
      "encoding": {
        "x": {"field": "start", "type": "quantitative",
          "axis": {"values": [0, 1, 2, 3, 4, 5, 6, 7, 8, 9, 10, 11, 12, 13, 14, 15, 16, 17, 18, 19, 20, 21, 22, 23, 24], "grid": true, "gridColor": {"condition": {"test": "datum.value % 4 === 0", "value": "#8a8a8a"}, "value": "#505050"}, "labelOffset": {"condition": {"test": "datum.value === 24", "value": -10}, "value": -2}, "labelExpr": "datum.value === 24 ? ['23:59', '04:59'] : (datum.value % 4 === 0 ? [(datum.value < 10 ? '0' : '') + datum.value + ':00', ((datum.value + 5) % 24 < 10 ? '0' : '') + ((datum.value + 5) % 24) + ':00'] : '')", "title": ["NY Time", "GMT"]}},
        "x2": {"field": "end"},
        "y": {"field": "band_top", "type": "quantitative",
          "axis": {"values": [12.9, 13.0, 13.1, 13.2, 13.3, 13.4, 13.5, 13.6], "grid": true, "gridColor": "#5c5c5c", "format": ".3f", "title": null}},
        "y2": {"field": "band_bottom"}
      }
    },
    {
      "data": {"name": "sessions"},
      "transform": [
        {"calculate": "(datum.start + datum.end) / 2", "as": "mid"},
        {"calculate": "12.977 - (datum.row - 1) * 0.026 - 0.01175", "as": "band_mid"}
      ],
      "mark": {"type": "text", "font": "DejaVu Sans Mono", "fontSize": 10, "color": "#ffbb00", "align": "center", "baseline": "middle"},
      "encoding": {
        "x": {"field": "mid", "type": "quantitative",
          "axis": {"values": [0, 1, 2, 3, 4, 5, 6, 7, 8, 9, 10, 11, 12, 13, 14, 15, 16, 17, 18, 19, 20, 21, 22, 23, 24], "grid": true, "gridColor": {"condition": {"test": "datum.value % 4 === 0", "value": "#8a8a8a"}, "value": "#505050"}, "labelOffset": {"condition": {"test": "datum.value === 24", "value": -10}, "value": -2}, "labelExpr": "datum.value === 24 ? ['23:59', '04:59'] : (datum.value % 4 === 0 ? [(datum.value < 10 ? '0' : '') + datum.value + ':00', ((datum.value + 5) % 24 < 10 ? '0' : '') + ((datum.value + 5) % 24) + ':00'] : '')", "title": ["NY Time", "GMT"]}},
        "y": {"field": "band_mid", "type": "quantitative",
          "axis": {"values": [12.9, 13.0, 13.1, 13.2, 13.3, 13.4, 13.5, 13.6], "grid": true, "gridColor": "#5c5c5c", "format": ".3f", "title": null}},
        "text": {"field": "session"}
      }
    }
  ]
}
